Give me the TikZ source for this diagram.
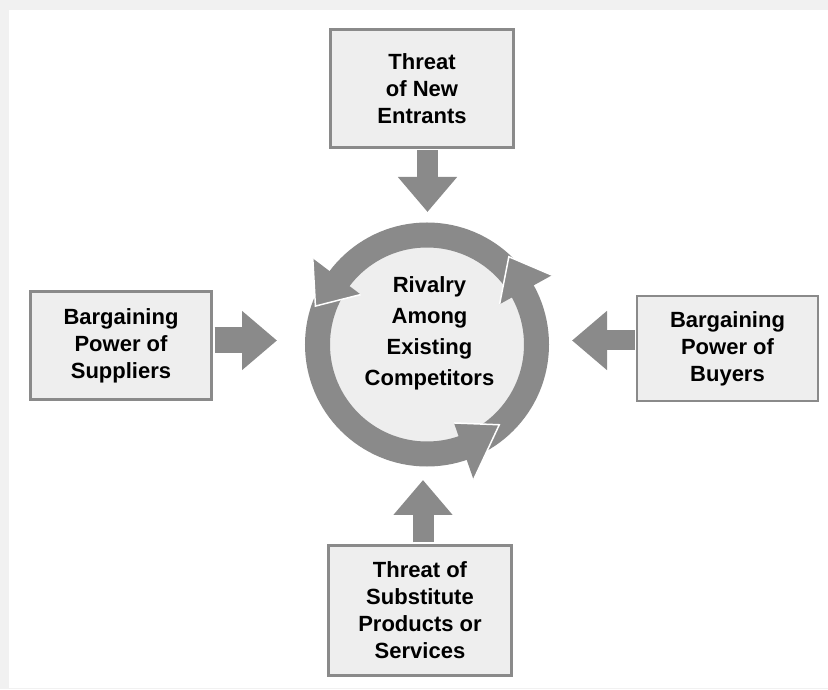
\documentclass[tikz,border=0pt]{standalone}
\usepackage{fontspec}
\setmainfont{Liberation Sans}
\usetikzlibrary{arrows.meta}
\definecolor{forcegray}{RGB}{138,138,138}
\definecolor{forcefill}{RGB}{238,238,238}
\definecolor{pagegray}{RGB}{241,241,241}

\begin{document}
\begin{tikzpicture}[x=1pt, y=1pt,
        force/.style={draw=forcegray, line width=3pt, fill=forcefill, align=center,
            font=\fontsize{22}{27}\selectfont\bfseries, inner sep=0pt},
        push/.style={forcegray, line width=21pt, shorten <=1.5pt,
            -{Triangle[width=57pt, length=35pt]}}]
    \useasboundingbox (0,0) rectangle (828,689);
    \fill[pagegray] (0,0) rectangle (828,689);
    \fill[white] (9,1) rectangle (828,679);
    % the four outside forces
    \node[force, minimum width=183pt, minimum height=118pt] (entrants) at (422,600.5) {Threat\\of New\\Entrants};
    \node[force, minimum width=181pt, minimum height=108pt] (suppliers) at (121,343.5) {Bargaining\\Power of\\Suppliers};
    \node[force, line width=2pt, minimum width=181pt, minimum height=105pt] (buyers) at (727.5,340.5) {Bargaining\\Power of\\Buyers};
    \node[force, minimum width=183pt, minimum height=130pt] (substitutes) at (420,78.5) {Threat of\\Substitute\\Products or\\Services};
    % rivalry ring with three heads
    \node[circle, draw=forcegray, line width=25pt, fill=forcefill, minimum size=219pt, inner sep=0pt] (ring) at (427,344.5) {};
    \begin{scope}[shift={(ring.center)}]
        \foreach \b/\t/\r in {143/161/118, 29/47/120, -71/-48/108} {
            \fill[forcegray] (\b:83) -- (\b:143) -- (\t:\r) -- cycle;
            \draw[white, line width=1.5pt] (\b:83) -- (\t:\r) -- (\b:143);
        }
    \end{scope}
    \node[align=center, font=\fontsize{22}{31}\selectfont\bfseries] (rivalry) at (429.5,355.5) {Rivalry\\Among\\Existing\\Competitors};
    % forces pushing on the rivalry
    \coordinate (entrantsTip) at (427.5,477);
    \coordinate (suppliersTip) at (277,348.5);
    \coordinate (buyersTip) at (572,348.5);
    \coordinate (substitutesTip) at (423,209);
    \draw[push] (entrants.south -| entrantsTip) -- (entrantsTip);
    \draw[push, line width=26pt] (suppliers.east |- suppliersTip) -- (suppliersTip);
    \draw[push, line width=20pt] (buyers.west |- buyersTip) -- (buyersTip);
    \draw[push] (substitutes.north -| substitutesTip) -- (substitutesTip);
\end{tikzpicture}
\end{document}
